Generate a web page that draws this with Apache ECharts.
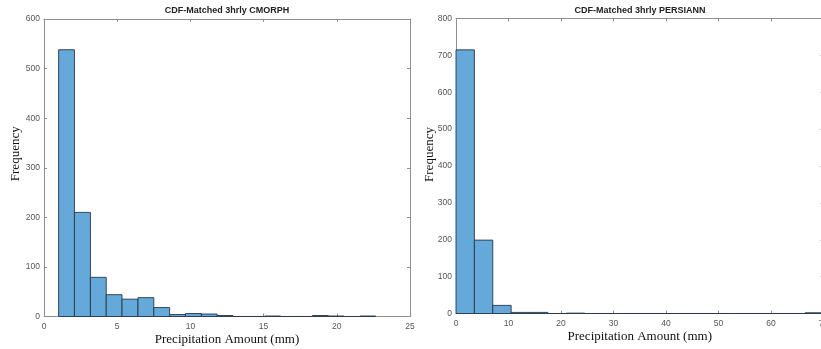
<!DOCTYPE html>
<html>
<head>
<meta charset="utf-8">
<script src="https://cdn.jsdelivr.net/npm/echarts@6/dist/echarts.min.js"></script>
<style>
  html, body { margin: 0; padding: 0; background: #fff; overflow: hidden; }
  #main { width: 821px; height: 349px; }
</style>
</head>
<body>
<div id="main"></div>
<script>
// histogram bins
var cmorphEdges = [1.00, 2.08, 3.17, 4.25, 5.33, 6.42, 7.50, 8.58, 9.66, 10.75, 11.83,
                   12.91, 14.00, 15.08, 16.16, 17.25, 18.33, 19.41, 20.50, 21.58, 22.66];
var cmorphCounts = [538, 210, 79, 44, 35, 38, 18, 4, 6, 5, 2, 0, 0, 1, 0, 0, 2, 1, 0, 1];

var persiannEdges = [0, 3.5, 7, 10.5, 14, 17.5, 21, 24.5, 28, 31.5, 35,
                     38.5, 42, 45.5, 49, 52.5, 56, 59.5, 63, 66.5, 70];
var persiannCounts = [715, 199, 22, 3, 3, 0, 1, 0, 0, 0, 0, 0, 0, 0, 0, 0, 0, 0, 0, 2];

var titles = ['CDF-Matched 3hrly CMORPH', 'CDF-Matched 3hrly PERSIANN'];
var xName = 'Precipitation Amount (mm)';
var yName = 'Frequency';

var frameColor = '#8f8f8f';
var labelColor = '#555';
var barFill = '#64a9d9';
var barEdge = '#26384a';

// [left edge, right edge, count]
function toBins(edges, counts){
    var out = [];
    for(var i=0;i<counts.length;i++){
        out.push([edges[i], edges[i+1], counts[i]]);
    }
    return out;
}

function renderHist(params, api){
    var top = api.coord([api.value(0), api.value(2)]);
    var base = api.coord([api.value(1), 0]);
    return {
        type: 'rect',
        shape: {x: top[0], y: top[1], width: base[0]-top[0], height: base[1]-top[1]},
        style: {fill: barFill, stroke: barEdge, lineWidth: 0.9}
    };
}

function xAxes(grid, max, interval, nameGap){
    var common = {
        type: 'value', gridIndex: grid, min: 0, max: max, interval: interval,
        axisLine: {show: true, onZero: false, lineStyle: {color: frameColor, width: 1}},
        axisTick: {show: true, inside: true, length: 3, lineStyle: {color: frameColor}},
        splitLine: {show: false}
    };
    return [
        Object.assign({}, common, {
            position: 'bottom',
            axisLabel: {color: labelColor, fontSize: 8.5, fontFamily: 'Arial, Liberation Sans', margin: 6},
            name: xName, nameLocation: 'middle', nameGap: nameGap, nameMoveOverlap: false,
            nameTextStyle: {color: '#111', fontSize: 13, fontFamily: 'Times New Roman, Liberation Serif'}
        }),
        Object.assign({}, common, {position: 'top', axisLabel: {show: false}})
    ];
}

function yAxes(grid, max, interval, nameGap, shift){
    var common = {
        type: 'value', gridIndex: grid, min: 0, max: max, interval: interval,
        axisLine: {show: true, onZero: false, lineStyle: {color: frameColor, width: 1}},
        axisTick: {show: true, inside: true, length: 3, lineStyle: {color: frameColor}},
        splitLine: {show: false}
    };
    return [
        Object.assign({}, common, {
            position: 'left',
            axisLabel: {color: labelColor, fontSize: 8.5, fontFamily: 'Arial, Liberation Sans', margin: 4},
            name: yName, nameLocation: 'middle', nameGap: nameGap, nameRotate: 90, nameMoveOverlap: false,
            nameTextStyle: {color: '#111', fontSize: 13, fontFamily: 'Times New Roman, Liberation Serif',
                            padding: [0, 0, 0, shift]}
        }),
        Object.assign({}, common, {position: 'right', axisLabel: {show: false}})
    ];
}

var chart = echarts.init(document.getElementById('main'));
var titleStyle = {color: '#222', fontSize: 9, fontWeight: 'bold', fontFamily: 'Arial, Liberation Sans'};

option = {
    animation: false,
    title: [
        {text: titles[0], left: 227, top: 6, textAlign: 'center', textStyle: titleStyle, padding: 0},
        {text: titles[1], left: 640, top: 6, textAlign: 'center', textStyle: titleStyle, padding: 0}
    ],
    grid: [
        {left: 44, right: 411, top: 19, bottom: 32.5, outerBoundsMode: 'none', containLabel: false},
        {left: 456, right: -2.5, top: 18.5, bottom: 35.5, outerBoundsMode: 'none', containLabel: false}
    ],
    xAxis: xAxes(0, 25, 5, 17).concat(xAxes(1, 70, 10, 17)),
    yAxis: yAxes(0, 600, 100, 22, 28).concat(yAxes(1, 800, 100, 20, 23)),
    series: [
        {
            type: 'custom', xAxisIndex: 0, yAxisIndex: 0,
            renderItem: renderHist, encode: {x: [0, 1], y: 2},
            data: toBins(cmorphEdges, cmorphCounts)
        },
        {
            type: 'custom', xAxisIndex: 2, yAxisIndex: 2,
            renderItem: renderHist, encode: {x: [0, 1], y: 2},
            data: toBins(persiannEdges, persiannCounts)
        }
    ]
};
chart.setOption(option);
</script>
</body>
</html>
